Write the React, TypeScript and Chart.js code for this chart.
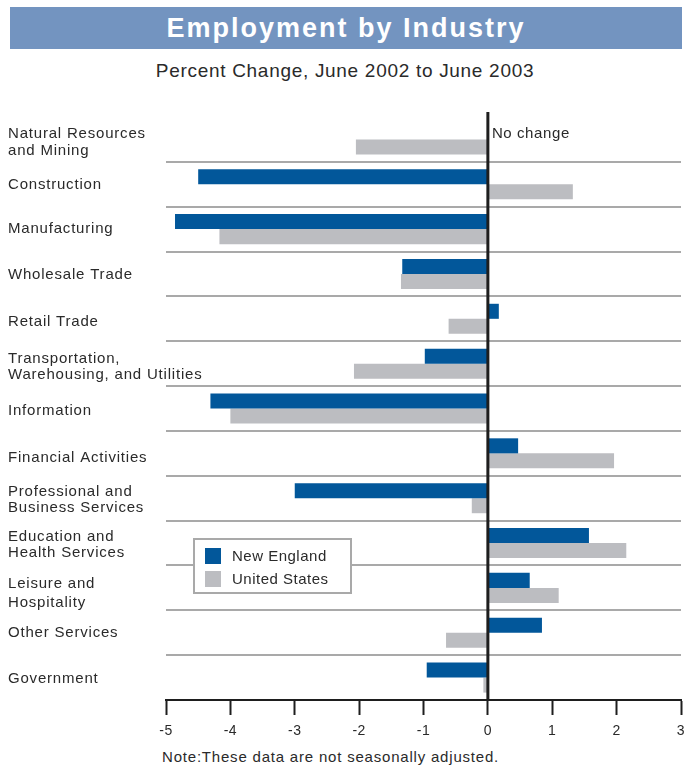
import React, { useEffect, useRef } from "react";
import { Chart, registerables } from "chart.js";

Chart.register(...registerables);

const categories: (string | string[])[] = [
  ["Natural Resources", "and Mining"],
  "Construction",
  "Manufacturing",
  "Wholesale Trade",
  "Retail Trade",
  ["Transportation,", "Warehousing, and Utilities"],
  "Information",
  "Financial Activities",
  ["Professional and", "Business Services"],
  ["Education and", "Health Services"],
  ["Leisure and", "Hospitality"],
  "Other Services",
  "Government",
];

const newEngland: (number | null)[] = [null, -4.5, -4.86, -1.33, 0.17, -0.98, -4.31, 0.47, -3.0, 1.57, 0.65, 0.84, -0.95];
const unitedStates: number[] = [-2.05, 1.32, -4.17, -1.35, -0.61, -2.08, -4.0, 1.96, -0.25, 2.15, 1.1, -0.65, -0.07];

const seriesNames = ["New England", "United States"];
const seriesColors = ["#02579a", "#bcbdc1"];
const xMin = -5;
const xMax = 3;

const FONT = "'Liberation Sans', Arial, sans-serif";
const TEXT = "#2a2a2a";

// small vertical nudges of the category labels (px), as typeset in the original
const labelNudge = [3, 1, 0, 1, 3, 3, 2, 5, 1.5, 2, 5, 0, 1.5];

const labelPlugin = {
  id: "catLabels",
  afterDraw(chart: any) {
    const { ctx, scales } = chart;
    const y = scales.y;
    ctx.save();
    ctx.letterSpacing = "0.8px";
    ctx.fillStyle = TEXT;
    ctx.font = `15px ${FONT}`;
    ctx.textAlign = "left";
    ctx.textBaseline = "middle";
    (chart.data.labels as (string | string[])[]).forEach((lab, i) => {
      const lines = Array.isArray(lab) ? lab : [lab];
      const lh = i === 10 ? 19 : 16.5;
      const cy = y.getPixelForValue(i) + (labelNudge[i] || 0);
      const start = cy - ((lines.length - 1) * lh) / 2;
      lines.forEach((t, j) => ctx.fillText(t, 8, start + j * lh));
    });
    ctx.restore();
  },
};

const overlayPlugin = {
  id: "overlay",
  beforeDraw(chart: any) {
    chart.ctx.letterSpacing = "0.5px";
  },
  afterDatasetsDraw(chart: any) {
    const { ctx, chartArea, scales } = chart;
    const x0 = scales.x.getPixelForValue(0);
    ctx.save();
    // zero line
    ctx.strokeStyle = "#1e1e1e";
    ctx.lineWidth = 3;
    ctx.beginPath();
    ctx.moveTo(x0, chartArea.top - 5);
    ctx.lineTo(x0, chartArea.bottom);
    ctx.stroke();
    // "No change"
    ctx.letterSpacing = "0.6px";
    ctx.fillStyle = TEXT;
    ctx.font = `15px ${FONT}`;
    ctx.textAlign = "left";
    ctx.textBaseline = "middle";
    ctx.fillText("No change", x0 + 4, chartArea.top + 17);

    // legend box
    const lx = chartArea.left + 28;
    const ly = chartArea.top + 422;
    const lw = 157;
    const lh = 54;
    ctx.fillStyle = "#ffffff";
    ctx.fillRect(lx, ly, lw, lh);
    ctx.strokeStyle = "#a9a9a9";
    ctx.lineWidth = 2;
    ctx.strokeRect(lx, ly, lw, lh);
    ctx.letterSpacing = "0.5px";
    ctx.font = `15px ${FONT}`;
    chart.data.datasets.forEach((ds: any, i: number) => {
      const cy = ly + 17 + i * 23;
      ctx.fillStyle = ds.backgroundColor;
      ctx.fillRect(lx + 11, cy - 8, 16, 16);
      ctx.fillStyle = TEXT;
      ctx.fillText(ds.label, lx + 38, cy + 1);
    });
    ctx.restore();
  },
};

export default function App() {
  const canvasRef = useRef<HTMLCanvasElement | null>(null);

  useEffect(() => {
    document.body.style.margin = "0";
    const canvas = canvasRef.current;
    if (!canvas) return;
    const chart = new Chart(canvas, {
      type: "bar",
      data: {
        labels: categories,
        datasets: [
          { label: seriesNames[0], data: newEngland, backgroundColor: seriesColors[0], borderWidth: 0 },
          { label: seriesNames[1], data: unitedStates, backgroundColor: seriesColors[1], borderWidth: 0 },
        ],
      },
      options: {
        indexAxis: "y",
        animation: false,
        responsive: false,
        maintainAspectRatio: false,
        categoryPercentage: 0.67,
        barPercentage: 1.0,
        layout: { padding: { left: 8, right: 5, top: 27, bottom: 0 } },
        plugins: {
          legend: { display: false },
          tooltip: { enabled: false },
          title: { display: false },
        },
        scales: {
          x: {
            type: "linear",
            min: xMin,
            max: xMax,
            ticks: {
              stepSize: 1,
              color: TEXT,
              font: { family: FONT, size: 14 },
              padding: 8,
            },
            grid: {
              drawOnChartArea: false,
              drawTicks: true,
              tickLength: 15,
              tickColor: "#1e1e1e",
              tickWidth: 2,
            },
            border: { display: true, color: "#1e1e1e", width: 2 },
            afterFit(scale: any) {
              scale.height = 40;
              scale.paddingLeft = 0;
              scale.paddingRight = 0;
            },
          },
          y: {
            type: "category",
            ticks: { display: false },
            grid: {
              offset: true,
              drawTicks: false,
              lineWidth: 2,
              color: (ctx: any) =>
                ctx.index === 0 || ctx.index >= categories.length ? "rgba(0,0,0,0)" : "#a9a9a9",
            },
            border: { display: false },
            afterFit(scale: any) {
              scale.width = 158;
            },
          },
        },
      },
      plugins: [overlayPlugin, labelPlugin],
    });
    return () => chart.destroy();
  }, []);

  return (
    <div style={{ position: "relative", width: 686, height: 769, background: "#fff", fontFamily: FONT, color: TEXT }}>
      <div
        style={{
          position: "absolute",
          left: 10,
          top: 7,
          width: 672,
          height: 42,
          background: "#7394c0",
          color: "#fff",
          fontWeight: "bold",
          fontSize: 27,
          letterSpacing: "2px",
          lineHeight: "42px",
          textAlign: "center",
        }}
      >
        Employment by Industry
      </div>
      <div
        style={{
          position: "absolute",
          left: 0,
          top: 60,
          width: 690,
          fontSize: 19,
          letterSpacing: "0.7px",
          lineHeight: "22px",
          textAlign: "center",
        }}
      >
        Percent Change, June 2002 to June 2003
      </div>
      <canvas
        ref={canvasRef}
        width={686}
        height={650}
        style={{ position: "absolute", left: 0, top: 90, width: 686, height: 650 }}
      />
      <div
        style={{
          position: "absolute",
          left: 162,
          top: 749,
          fontSize: 15,
          letterSpacing: "0.8px",
          lineHeight: "16px",
          whiteSpace: "nowrap",
        }}
      >
        Note:These data are not seasonally adjusted.
      </div>
    </div>
  );
}
